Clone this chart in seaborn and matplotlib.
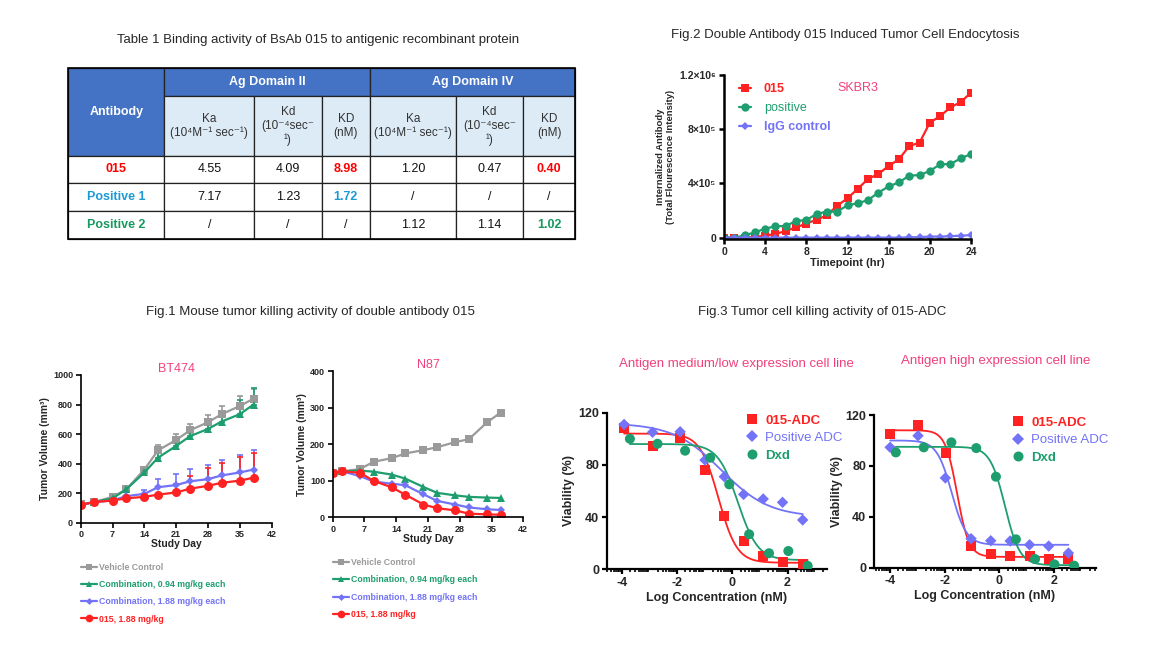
import numpy as np
import pandas as pd
import matplotlib
matplotlib.use('Agg')
import matplotlib.pyplot as plt
import seaborn as sns
from matplotlib.lines import Line2D
from matplotlib.patches import Rectangle

W, H = 1157, 650

# ---------------- Table 1 data ----------------
table_rows = ['015', 'Positive 1', 'Positive 2']
row_colors = ['#FF0000', '#1C9AD6', '#16995F']
ka_ii = ['4.55', '7.17', '/']
kd_ii = ['4.09', '1.23', '/']
KD_ii = ['8.98', '1.72', '/']
ka_iv = ['1.20', '/', '1.12']
kd_iv = ['0.47', '/', '1.14']
KD_iv = ['0.40', '/', '1.02']

# ---------------- Fig.2 data (SKBR3 endocytosis) ----------------
hours = list(range(25))
endo_015 = [0, 0, 0, 5e3, 15e3, 27e3, 49e3, 76e3, 103e3, 133e3, 165e3, 236e3, 290e3,
            361e3, 433e3, 470e3, 529e3, 578e3, 676e3, 701e3, 848e3, 897e3, 961e3, 1000e3, 1070e3]
endo_pos = [0, 0, 17e3, 39e3, 66e3, 84e3, 86e3, 123e3, 130e3, 175e3, 192e3, 192e3, 239e3,
            253e3, 278e3, 332e3, 378e3, 408e3, 457e3, 462e3, 492e3, 541e3, 543e3, 585e3, 617e3]
endo_igg = [0, 0, 0, 0, 0, 0, 0, 0, 0, 0, 0, 0, 0,
            0, 0, 0, 0, 0, 2e3, 4e3, 8e3, 8e3, 10e3, 15e3, 18e3]

# ---------------- Fig.1 data (tumor volume) ----------------
groups1 = ['Vehicle Control', 'Combination, 0.94 mg/kg each',
           'Combination, 1.88 mg/kg each', '015, 1.88 mg/kg']
bt_days = [0, 3, 7, 10, 14, 17, 21, 24, 28, 31, 35, 38]
bt_vehicle = [125, 140, 175, 225, 360, 490, 560, 625, 680, 735, 790, 840]
bt_combo094 = [120, 140, 165, 225, 340, 440, 520, 585, 635, 685, 735, 800]
bt_combo188 = [120, 140, 150, 180, 195, 240, 255, 280, 295, 320, 340, 360]
bt_015 = [120, 140, 150, 165, 175, 190, 205, 230, 250, 270, 285, 305]
bt_vehicle_err = [0, 0, 0, 0, 10, 35, 40, 45, 50, 55, 65, 65]
bt_combo094_err = [0, 0, 0, 0, 10, 30, 40, 45, 55, 65, 95, 110]
bt_combo188_err = [0, 0, 0, 0, 26, 53, 75, 83, 95, 104, 118, 132]
bt_015_err = [0, 0, 0, 0, 0, 0, 60, 88, 118, 132, 162, 165]

n87_days = [0, 2, 6, 9, 13, 16, 20, 23, 27, 30, 34, 37]
n87_vehicle = [122, 126, 132, 152, 162, 175, 184, 192, 206, 214, 260, 287]
n87_combo094 = [122, 126, 128, 125, 117, 106, 83, 67, 60, 56, 54, 53]
n87_combo188 = [122, 126, 113, 98, 92, 88, 63, 45, 35, 27, 22, 20]
n87_015 = [122, 126, 122, 100, 82, 62, 35, 25, 19, 10, 8, 7]

# ---------------- Fig.3 data (ADC killing) ----------------
groups3 = ['015-ADC', 'Positive ADC', 'Dxd']
# medium/low expression cell line
mid_x_adc = [-3.92, -2.89, -1.89, -0.99, -0.29, 0.41, 1.12, 1.82, 2.55]
mid_y_adc = [108.5, 94.2, 100.8, 75.8, 41.1, 21.4, 10.2, 5.9, 4.3]
mid_x_pos = [-3.92, -2.89, -1.89, -0.99, -0.29, 0.41, 1.12, 1.82, 2.55]
mid_y_pos = [111, 105, 105.4, 83.7, 71, 57.4, 53.9, 51.3, 37.8]
mid_x_dxd = [-3.71, -2.71, -1.71, -0.80, -0.11, 0.61, 1.33, 2.03, 2.73]
mid_y_dxd = [100, 96.2, 90.9, 85.5, 65.1, 26.8, 12.3, 14, 2.6]
# 4PL fit: top, bottom, logIC50, hill
mid_fit = {'015-ADC': (104, 5, -0.5, 1.3),
           'Positive ADC': (112, 40, -0.4, 0.5),
           'Dxd': (96, 7, 0.2, 1.2)}
# high expression cell line
high_x_adc = [-4.0, -2.98, -1.95, -1.04, -0.32, 0.39, 1.1, 1.8, 2.52]
high_y_adc = [105, 112, 89.9, 17.3, 10.7, 9.4, 9.2, 6.8, 6.8]
high_x_pos = [-4.0, -2.98, -1.98, -1.04, -0.32, 0.39, 1.1, 1.8, 2.52]
high_y_pos = [94.6, 103.7, 70.5, 22.8, 21.2, 21, 18, 17, 11.5]
high_x_dxd = [-3.79, -2.77, -1.76, -0.85, -0.13, 0.6, 1.3, 2.01, 2.73]
high_y_dxd = [90.6, 94.6, 98.5, 94, 71.5, 22.3, 6.8, 2.6, 1.6]
high_fit = {'015-ADC': (108, 8.5, -1.55, 2.0),
            'Positive ADC': (100, 18, -1.75, 1.6),
            'Dxd': (95, 2, 0.2, 1.6)}

# ---------------- style ----------------
sns.set_theme(style='ticks')
plt.rcParams['font.family'] = ['Liberation Sans', 'DejaVu Sans']
plt.rcParams['axes.linewidth'] = 1.4
plt.rcParams['axes.unicode_minus'] = False

RED = '#FF2222'
GREEN = '#1E9E6E'
BLUE = '#7373F7'
GRAY = '#9A9A9A'
PINK = '#F0417A'

fig = plt.figure(figsize=(W / 100, H / 100), dpi=100)
bg = fig.add_axes([0, 0, 1, 1], zorder=-1)
bg.set_xlim(0, W)
bg.set_ylim(H, 0)
bg.axis('off')


def px_axes(left, top, right, bottom):
    return fig.add_axes([left / W, 1 - bottom / H, (right - left) / W, (bottom - top) / H])


def style_axes(ax, size, lw=1.4):
    sns.despine(ax=ax)
    for s in ['left', 'bottom']:
        ax.spines[s].set_linewidth(lw)
        ax.spines[s].set_color('black')
    ax.tick_params(axis='both', which='major', length=3.5, width=lw, color='black',
                   labelsize=size, pad=2)
    for lab in ax.get_xticklabels() + ax.get_yticklabels():
        lab.set_fontweight('bold')
    ax.set_facecolor('none')


# ---------------- titles ----------------
bg.text(318, 40, 'Table 1 Binding activity of BsAb 015 to antigenic recombinant protein',
        ha='center', va='center', fontsize=9.5)
bg.text(845, 35, 'Fig.2 Double Antibody 015 Induced Tumor Cell Endocytosis',
        ha='center', va='center', fontsize=9.5)
bg.text(310, 312, 'Fig.1 Mouse tumor killing activity of double antibody 015',
        ha='center', va='center', fontsize=9.5)
bg.text(822, 312, 'Fig.3 Tumor cell killing activity of 015-ADC',
        ha='center', va='center', fontsize=9.5)
bg.text(736, 364, 'Antigen medium/low expression cell line', color=PINK,
        ha='center', va='center', fontsize=9.5)
bg.text(996, 361, 'Antigen high expression cell line', color=PINK,
        ha='center', va='center', fontsize=9.5)

# ---------------- Table 1 ----------------
cols = [68.3, 164.3, 254.3, 321.7, 370, 455.7, 523.3, 575]
rows_y = [155.7, 183, 211, 239]
HEAD = '#4472C4'
SUB = '#DDEBF7'
ec = '#222222'


def cell(x0, y0, x1, y1, fc):
    bg.add_patch(Rectangle((x0, y0), x1 - x0, y1 - y0, facecolor=fc, edgecolor=ec, lw=0.9))


cell(cols[0], 68, cols[1], 155.7, HEAD)
bg.text((cols[0] + cols[1]) / 2, 112, 'Antibody', color='white', fontweight='bold',
        ha='center', va='center', fontsize=9)
cell(cols[1], 68, cols[4], 96, HEAD)
bg.text((cols[1] + cols[4]) / 2, 82, 'Ag Domain II', color='white', fontweight='bold',
        ha='center', va='center', fontsize=9)
cell(cols[4], 68, cols[7], 96, HEAD)
bg.text((cols[4] + cols[7]) / 2, 82, 'Ag Domain IV', color='white', fontweight='bold',
        ha='center', va='center', fontsize=9)
sub_labels = ['Ka\n(10\u2074M\u207b\u00b9 sec\u207b\u00b9)', 'Kd\n(10\u207b\u2074sec\u207b\n\u00b9)',
              'KD\n(nM)'] * 2
for i, lab in enumerate(sub_labels):
    cell(cols[i + 1], 96, cols[i + 2], 155.7, SUB)
    bg.text((cols[i + 1] + cols[i + 2]) / 2, 126, lab, color='#333333', ha='center',
            va='center', fontsize=8.5, linespacing=1.15)

table_cols = [ka_ii, kd_ii, KD_ii, ka_iv, kd_iv, KD_iv]
for r, name in enumerate(table_rows):
    y0, y1 = rows_y[r], rows_y[r + 1]
    cell(cols[0], y0, cols[1], y1, 'white')
    bg.text((cols[0] + cols[1]) / 2, (y0 + y1) / 2, name, color=row_colors[r],
            fontweight='bold', ha='center', va='center', fontsize=9)
    for c, vals in enumerate(table_cols):
        cell(cols[c + 1], y0, cols[c + 2], y1, 'white')
        is_kd = c in (2, 5) and vals[r] != '/'
        bg.text((cols[c + 1] + cols[c + 2]) / 2, (y0 + y1) / 2, vals[r],
                color=row_colors[r] if is_kd else '#111111',
                fontweight='bold' if is_kd else 'normal',
                ha='center', va='center', fontsize=9)
bg.add_patch(Rectangle((cols[0], 68), cols[7] - cols[0], 239 - 68, facecolor='none',
                       edgecolor='black', lw=1.2))

# ---------------- Fig.2 ----------------
ax2 = px_axes(724, 75, 971, 239)
df2 = pd.DataFrame({'hr': hours * 3,
                    'val': endo_015 + endo_pos + endo_igg,
                    'grp': ['015'] * 25 + ['positive'] * 25 + ['IgG control'] * 25})
pal2 = {'015': RED, 'positive': GREEN, 'IgG control': BLUE}
mk2 = {'015': 's', 'positive': 'o', 'IgG control': 'D'}
ms2 = {'015': 6, 'positive': 6, 'IgG control': 4.5}
for g in pal2:
    sns.lineplot(data=df2[df2['grp'] == g], x='hr', y='val', color=pal2[g], marker=mk2[g],
                 markersize=ms2[g], linewidth=1.6, markeredgewidth=0, ax=ax2)
ax2.set_xlim(0, 24)
ax2.set_ylim(-1e4, 1.2e6)
ax2.set_xticks(range(0, 25, 4))
ax2.set_yticks([0, 4e5, 8e5, 1.2e6])
ax2.set_yticklabels(['0', '4\u00d710\u2075', '8\u00d710\u2075', '1.2\u00d710\u2076'])
ax2.set_xlabel('Timepoint (hr)', fontsize=8, fontweight='bold', labelpad=1)
ax2.set_ylabel('Internalized Antibody\n(Total Flourescence Intensity)', fontsize=6.8,
               fontweight='bold', labelpad=3)
style_axes(ax2, 7.5, lw=1.8)
h2 = [Line2D([], [], color=pal2[g], marker=mk2[g], markersize=ms2[g], lw=1.6,
             markeredgewidth=0) for g in pal2]
leg = ax2.legend(h2, list(pal2), loc='upper left', bbox_to_anchor=(0.06, 0.95),
                 frameon=False, fontsize=9, handlelength=1.0, handletextpad=1.0,
                 labelspacing=0.55, borderpad=0, borderaxespad=0)
for t, g in zip(leg.get_texts(), pal2):
    t.set_color(pal2[g])
    t.set_fontweight('normal' if g == 'positive' else 'bold')
ax2.text(0.54, 0.92, 'SKBR3', color=PINK, fontsize=9, transform=ax2.transAxes,
         ha='center', va='center')

# ---------------- Fig.1 ----------------
pal1 = dict(zip(groups1, [GRAY, GREEN, BLUE, RED]))
mk1 = dict(zip(groups1, ['s', '^', 'D', 'o']))
ms1 = dict(zip(groups1, [6, 6, 4.5, 6.5]))


def tumor_panel(ax, days, series, errs, ymax, title, leg_top):
    df = pd.DataFrame({'day': days * 4,
                       'vol': sum(series, []),
                       'grp': sum([[g] * len(days) for g in groups1], [])})
    if errs is not None:
        for g, v, e in zip(groups1, series, errs):
            ax.errorbar(days, v, yerr=[np.zeros(len(e)), e], fmt='none', ecolor=pal1[g],
                        elinewidth=1.2, capsize=2, capthick=1.2)
    for g in groups1:
        sub = df[df['grp'] == g]
        sns.lineplot(data=sub, x='day', y='vol', color=pal1[g], marker=mk1[g],
                     markersize=ms1[g], markeredgewidth=0, linewidth=1.6, ax=ax)
    ax.set_xlim(0, 42)
    ax.set_ylim(0, ymax)
    ax.set_xticks(range(0, 43, 7))
    ax.set_yticks(np.linspace(0, ymax, 6 if ymax == 1000 else 5))
    ax.set_xlabel('Study Day', fontsize=7.5, fontweight='bold', labelpad=0)
    ax.set_ylabel('Tumor Volume (mm\u00b3)', fontsize=7.5, fontweight='bold', labelpad=2)
    style_axes(ax, 6.5, lw=1.2)
    ax.set_title(title, color=PINK, fontsize=9, pad=1)
    hh = [Line2D([], [], color=pal1[g], marker=mk1[g], markersize=ms1[g] - 1, lw=1.6,
                 markeredgewidth=0) for g in groups1]
    lg = ax.legend(hh, groups1, loc='upper left', bbox_to_anchor=(0.0, leg_top),
                   frameon=False, handlelength=1.9, handletextpad=0.2, labelspacing=0.95,
                   borderpad=0, borderaxespad=0, prop={'size': 6.3, 'weight': 'bold'})
    for t, g in zip(lg.get_texts(), groups1):
        t.set_color(pal1[g])


ax1a = px_axes(80.7, 375, 271.7, 522.7)
tumor_panel(ax1a, bt_days, [bt_vehicle, bt_combo094, bt_combo188, bt_015],
            [bt_vehicle_err, bt_combo094_err, bt_combo188_err, bt_015_err], 1000, 'BT474', -0.27)
ax1b = px_axes(332.7, 371.3, 523.3, 517.3)
tumor_panel(ax1b, n87_days, [n87_vehicle, n87_combo094, n87_combo188, n87_015],
            None, 400, 'N87', -0.28)

# ---------------- Fig.3 ----------------
pal3 = dict(zip(groups3, [RED, BLUE, GREEN]))
mk3 = dict(zip(groups3, ['s', 'D', 'o']))
sz3 = dict(zip(groups3, [52, 34, 52]))


def fourpl(x, top, bottom, ic50, hill):
    return bottom + (top - bottom) / (1 + 10 ** ((x - ic50) * hill))


def adc_panel(ax, xs, ys, fits, xlim, leg_anchor):
    for g, x, y in zip(groups3, xs, ys):
        grid = np.linspace(min(x), max(x), 200)
        sns.lineplot(x=grid, y=fourpl(grid, *fits[g]), color=pal3[g], linewidth=1.3, ax=ax)
    for g, x, y in zip(groups3, xs, ys):
        sns.scatterplot(x=x, y=y, color=pal3[g], marker=mk3[g], s=sz3[g], edgecolor='none',
                        ax=ax, zorder=3)
    ax.set_xlim(*xlim)
    ax.set_ylim(0, 120)
    ax.set_xticks([-4, -2, 0, 2])
    ax.set_yticks([0, 40, 80, 120])
    minors = [n + np.log10(k) for n in range(-5, 4) for k in range(2, 10)]
    ax.set_xticks([m for m in minors if xlim[0] < m < xlim[1]], minor=True)
    ax.tick_params(axis='x', which='minor', length=2.5, width=1.2, color='black')
    ax.set_xlabel('Log Concentration (nM)', fontsize=9, fontweight='bold', labelpad=2)
    ax.set_ylabel('Viability (%)', fontsize=9, fontweight='bold', labelpad=2)
    style_axes(ax, 9, lw=1.6)
    hh = [Line2D([], [], ls='none', color=pal3[g], marker=mk3[g],
                 markersize=np.sqrt(sz3[g]), markeredgewidth=0) for g in groups3]
    lg = ax.legend(hh, groups3, loc='upper left', bbox_to_anchor=leg_anchor, frameon=False,
                   fontsize=9.5, handlelength=1.0, handletextpad=0.5, labelspacing=0.4,
                   borderpad=0, borderaxespad=0)
    for t, g in zip(lg.get_texts(), groups3):
        t.set_color(pal3[g])
        t.set_fontweight('normal' if g == 'Positive ADC' else 'bold')


ax3a = px_axes(606.7, 412.7, 826.7, 569.3)
adc_panel(ax3a, [mid_x_adc, mid_x_pos, mid_x_dxd], [mid_y_adc, mid_y_pos, mid_y_dxd],
          mid_fit, (-4.55, 3.42), (0.63, 0.99))
ax3b = px_axes(874, 415, 1096, 567.7)
adc_panel(ax3b, [high_x_adc, high_x_pos, high_x_dxd], [high_y_adc, high_y_pos, high_y_dxd],
          high_fit, (-4.59, 3.53), (0.62, 0.99))

fig.savefig('out.png', dpi=100, facecolor='white')
